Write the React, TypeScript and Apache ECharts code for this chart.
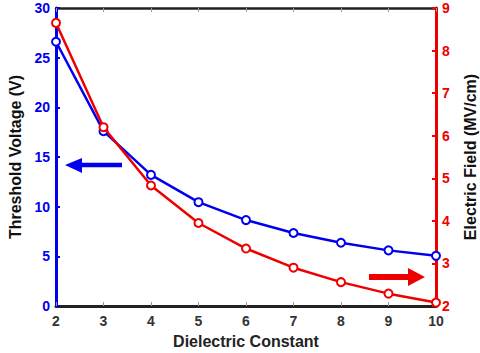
import React, { useEffect, useRef } from "react";
import * as echarts from "echarts";

const dielectric = [2, 3, 4, 5, 6, 7, 8, 9, 10];
const thresholdVoltage = [26.6, 17.6, 13.2, 10.45, 8.65, 7.35, 6.37, 5.6, 5.05];
const electricField = [8.65, 6.2, 4.83, 3.95, 3.35, 2.9, 2.56, 2.29, 2.08];

const FONT = "Liberation Sans, Arial, sans-serif";

export default function App() {
  const ref = useRef<HTMLDivElement>(null);
  useEffect(() => {
    const chart = echarts.init(ref.current!, null, { renderer: "svg" });
    const pair = (ys: number[]) => dielectric.map((x, i) => [x, ys[i]]);
    chart.setOption({
      animation: false,
      backgroundColor: "#fff",
      grid: { left: 56, right: 44, top: 8, bottom: 47, containLabel: false, outerBoundsMode: "none" },
      xAxis: [
        {
          type: "value",
          min: 2,
          max: 10,
          interval: 1,
          name: "Dielectric Constant",
          nameLocation: "middle",
          nameGap: 27,
          nameTextStyle: { color: "#222", fontWeight: "bold", fontSize: 16, fontFamily: FONT },
          axisLine: { lineStyle: { color: "#222", width: 3 } },
          axisTick: { inside: true, length: 4, lineStyle: { color: "#999", width: 1 } },
          axisLabel: { color: "#333", fontWeight: "bold", fontSize: 14, fontFamily: FONT, margin: 8 },
          splitLine: { show: false },
        },
        {
          type: "value",
          position: "top",
          min: 2,
          max: 10,
          interval: 1,
          axisLine: { lineStyle: { color: "#222", width: 2.5 } },
          axisTick: { inside: true, length: 4, lineStyle: { color: "#999", width: 1 } },
          axisLabel: { show: false },
          splitLine: { show: false },
        },
      ],
      yAxis: [
        {
          type: "value",
          min: 0,
          max: 30,
          interval: 5,
          name: "Threshold Voltage (V)",
          nameLocation: "middle",
          nameGap: 22,
          nameTextStyle: { color: "#111", fontWeight: "bold", fontSize: 16, fontFamily: FONT },
          axisLine: { show: true, lineStyle: { color: "#0000ee", width: 3 } },
          axisTick: { show: true, inside: true, length: 4, lineStyle: { color: "#0000ee", width: 2 } },
          axisLabel: { color: "#0000ee", fontWeight: "bold", fontSize: 14, fontFamily: FONT, margin: 6 },
          splitLine: { show: false },
        },
        {
          type: "value",
          min: 2,
          max: 9,
          interval: 1,
          position: "right",
          name: "Electric Field (MV/cm)",
          nameLocation: "middle",
          nameGap: 26,
          nameTextStyle: { color: "#111", fontWeight: "bold", fontSize: 16, fontFamily: FONT },
          axisLine: { show: true, lineStyle: { color: "#ee0000", width: 3 } },
          axisTick: { show: true, inside: true, length: 4, lineStyle: { color: "#ee0000", width: 2 } },
          axisLabel: { color: "#ee0000", fontWeight: "bold", fontSize: 14, fontFamily: FONT, margin: 6 },
          splitLine: { show: false },
        },
      ],
      series: [
        {
          type: "line",
          xAxisIndex: 0,
          yAxisIndex: 0,
          data: pair(thresholdVoltage),
          symbol: "circle",
          symbolSize: 8,
          lineStyle: { color: "#0000ee", width: 2.5 },
          itemStyle: { color: "#fff", borderColor: "#0000ee", borderWidth: 2 },
          z: 3,
        },
        {
          type: "line",
          xAxisIndex: 0,
          yAxisIndex: 1,
          data: pair(electricField),
          symbol: "circle",
          symbolSize: 8,
          lineStyle: { color: "#ee0000", width: 2.5 },
          itemStyle: { color: "#fff", borderColor: "#ee0000", borderWidth: 2 },
          z: 4,
        },
      ],
      graphic: [
        {
          type: "polygon",
          shape: {
            points: [
              [65, 165], [82, 158], [82, 162.7], [122, 162.7], [122, 167.3], [82, 167.3], [82, 173],
            ],
          },
          style: { fill: "#0000ee" },
        },
        {
          type: "polygon",
          shape: {
            points: [
              [425, 277], [408, 268], [408, 274], [369, 274], [369, 280], [408, 280], [408, 286],
            ],
          },
          style: { fill: "#ee0000" },
        },
      ],
    });
    return () => chart.dispose();
  }, []);
  return <div ref={ref} style={{ width: 480, height: 353, position: "absolute", left: 0, top: 0 }} />;
}
